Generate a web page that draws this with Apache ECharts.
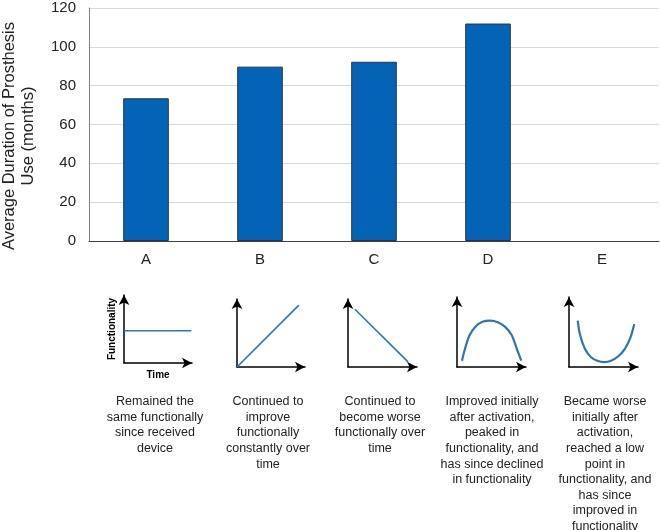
<!DOCTYPE html>
<html>
<head>
<meta charset="utf-8">
<script src="https://cdn.jsdelivr.net/npm/echarts@6/dist/echarts.min.js"></script>
<style>
  html, body { margin: 0; padding: 0; background: #fff; }
  #chart { width: 660px; height: 530px; }
</style>
</head>
<body>
<div id="chart"></div>
<script>
// bar chart data
var categories = ['A', 'B', 'C', 'D', 'E'];
var durationValues = [73.5, 89.8, 92.3, 112, null];
var yTicks = [0, 20, 40, 60, 80, 100, 120];

// little functionality-over-time sketches, one per group (0..10 scale)
var shapeA = [[0, 4.75], [9.9, 4.75]];
var shapeB = [[0, 0], [9.1, 9.1]];
var shapeC = [[1.0, 8.5], [8.7, 0.75]];
var shapeD = [[0.72, 0.9], [1.1, 2.4], [1.8, 4.5], [2.7, 5.8], [3.7, 6.45], [4.8, 6.62], [5.9, 6.4], [6.9, 5.8], [7.9, 4.6], [8.7, 2.5], [9.32, 0.9]];
var shapeE = [[1.26, 6.61], [1.6, 4.6], [2.3, 2.6], [3.2, 1.4], [4.2, 0.85], [5.1, 0.7], [6.1, 0.9], [7.1, 1.5], [8.1, 2.6], [8.9, 4.2], [9.46, 6.14]];

var descriptions = [
  'Remained the\nsame functionally\nsince received\ndevice',
  'Continued to\nimprove\nfunctionally\nconstantly over\ntime',
  'Continued to\nbecome worse\nfunctionally over\ntime',
  'Improved initially\nafter activation,\npeaked in\nfunctionality, and\nhas since declined\nin functionality',
  'Became worse\ninitially after\nactivation,\nreached a low\npoint in\nfunctionality, and\nhas since\nimproved in\nfunctionality'
];

var FONT = 'Liberation Sans, Arial, sans-serif';
var shapes = [shapeA, shapeB, shapeC, shapeD, shapeE];
// sketch boxes: [left, top, width, height]
var boxes = [[124, 295, 68, 68], [237, 299, 68, 68], [348, 299, 69, 68], [457, 297, 69, 70], [569, 297, 69, 70]];
var descX = [155, 268, 380, 492, 605];

var chart = echarts.init(document.getElementById('chart'), null, { renderer: 'canvas' });

var grids = [{ left: 89, top: 8, width: 570, height: 233 }];
var xAxes = [{
  type: 'category',
  data: categories,
  gridIndex: 0,
  axisLine: { lineStyle: { color: '#404040', width: 1 } },
  axisTick: { show: false },
  axisLabel: { color: '#222', fontSize: 15, fontFamily: FONT, margin: 11 }
}];
var yAxes = [{
  type: 'value',
  gridIndex: 0,
  min: yTicks[0],
  max: yTicks[yTicks.length - 1],
  interval: 20,
  axisLine: { show: true, lineStyle: { color: '#808080', width: 1 } },
  axisTick: { show: false },
  axisLabel: { color: '#222', fontSize: 15, fontFamily: FONT, margin: 13 },
  splitLine: { lineStyle: { color: '#d9d9d9', width: 1 } }
}];
var series = [{
  type: 'bar',
  data: durationValues,
  barWidth: '40%',
  itemStyle: { color: '#0563b6', borderColor: '#23354a', borderWidth: 1 },
  xAxisIndex: 0,
  yAxisIndex: 0
}];

var sketchAxisLine = {
  show: true,
  symbol: ['none', 'arrow'],
  symbolSize: [8, 10],
  lineStyle: { color: '#000', width: 1.5 }
};

shapes.forEach(function (shape, i) {
  var b = boxes[i];
  grids.push({ left: b[0], top: b[1], width: b[2], height: b[3] });
  xAxes.push({
    type: 'value', gridIndex: i + 1, min: 0, max: 10,
    axisLine: sketchAxisLine, axisTick: { show: false }, axisLabel: { show: false }, splitLine: { show: false },
    name: i === 0 ? 'Time' : '', nameLocation: 'middle', nameGap: 7,
    nameTextStyle: { fontSize: 10, fontWeight: 'bold', color: '#000', fontFamily: FONT, verticalAlign: 'top' }
  });
  yAxes.push({
    type: 'value', gridIndex: i + 1, min: 0, max: 10,
    axisLine: sketchAxisLine, axisTick: { show: false }, axisLabel: { show: false }, splitLine: { show: false },
    name: i === 0 ? 'Functionality' : '', nameLocation: 'middle', nameGap: 7, nameRotate: 90,
    nameTextStyle: { fontSize: 10, fontWeight: 'bold', color: '#000', fontFamily: FONT }
  });
  series.push({
    type: 'line',
    data: shape,
    xAxisIndex: i + 1,
    yAxisIndex: i + 1,
    symbol: 'none',
    smooth: shape.length > 2 ? 0.3 : false,
    lineStyle: { color: '#2e75b6', width: shape.length > 2 ? 2.2 : 1.6 },
    silent: true
  });
});

var graphics = [{
  type: 'text',
  x: 19,
  y: 136,
  rotation: Math.PI / 2,
  style: {
    text: 'Average Duration of Prosthesis\nUse (months)',
    font: '16.5px ' + FONT,
    fill: '#222',
    align: 'center',
    verticalAlign: 'middle',
    lineHeight: 19
  }
}];
descriptions.forEach(function (d, i) {
  graphics.push({
    type: 'text',
    x: descX[i],
    y: 394,
    style: {
      text: d,
      font: '12.5px ' + FONT,
      fill: '#222',
      align: 'center',
      verticalAlign: 'top',
      lineHeight: 15.6
    }
  });
});

chart.setOption({
  animation: false,
  backgroundColor: '#fff',
  grid: grids,
  xAxis: xAxes,
  yAxis: yAxes,
  series: series,
  graphic: graphics
});
</script>
</body>
</html>
